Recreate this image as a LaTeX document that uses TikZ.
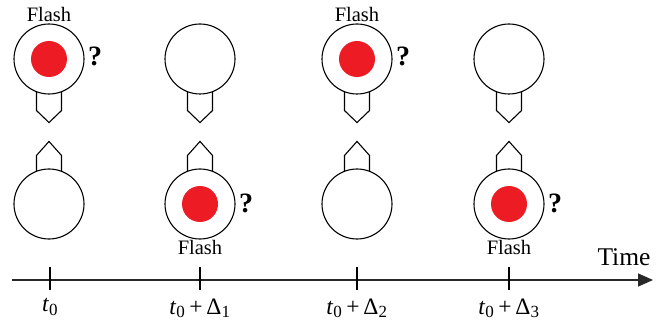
\documentclass[tikz,border=0pt]{standalone}
\usepackage{fontspec}
\setmainfont{Liberation Serif}
\newfontfamily\timesface{Liberation Serif}
\usepackage{tikz}
\usetikzlibrary{arrows.meta, positioning, backgrounds}
\definecolor{flashred}{RGB}{237, 28, 36}
\definecolor{linegray}{RGB}{40, 40, 40}
\tikzset{
  >=Stealth,
  timearrow/.style={-{Triangle[length=15pt, width=13pt]}, line width=1.5pt, linegray}
}
\newcommand{\tstamp}[1]{\textit{t}\textsubscript{\fontsize{17}{18}\selectfont 0}\,+\,Δ\textsubscript{\fontsize{17}{18}\selectfont #1}}

\begin{document}
\begin{tikzpicture}[
    x=1pt, y=1pt,
    lamp/.style={circle, draw=black, fill=white, line width=1.1pt, minimum size=70pt, inner sep=0pt},
    dot/.style={circle, fill=flashred, minimum size=36pt, inner sep=0pt},
    plug/.style={draw=black, line width=1.1pt, fill=white, line join=miter},
    flash/.style={font=\timesface\fontsize{20.5}{22}\selectfont},
    ask/.style={font=\timesface\fontsize{28}{30}\selectfont\bfseries},
    tick/.style={line width=1.2pt, black},
    stamp/.style={font=\timesface\fontsize{23.5}{24}\selectfont}
]
    \useasboundingbox (0,0) rectangle (664,327);

    % Upper row
    \node[lamp] (u1) at (49,268) {};
    \node[lamp] (u2) at (200,268) {};
    \node[lamp] (u3) at (357,268) {};
    \node[lamp] (u4) at (509,268) {};
    \node[dot] (ud1) at (u1) {};
    \node[dot] (ud3) at (u3) {};
    \node[flash, above=-2pt of u1] (uf1) {Flash};
    \node[flash, above=-2pt of u3] (uf3) {Flash};
    \node[ask, right=0pt of u1, yshift=3pt] (uq1) {?};
    \node[ask, right=0pt of u3, yshift=3pt] (uq3) {?};

    % Lower row
    \node[lamp] (d1) at (49,123) {};
    \node[lamp] (d2) at (200,123) {};
    \node[lamp] (d3) at (357,123) {};
    \node[lamp] (d4) at (509,123) {};
    \node[dot] (dd2) at (d2) {};
    \node[dot] (dd4) at (d4) {};
    \node[flash, below=-3pt of d2] (df2) {Flash};
    \node[flash, below=-3pt of d4] (df4) {Flash};
    \node[ask, right=0pt of d2, yshift=1pt] (dq2) {?};
    \node[ask, right=0pt of d4, yshift=1pt] (dq4) {?};

    % Plugs
    \begin{scope}[on background layer]
        \foreach \n in {u1,u2,u3,u4}
            \draw[plug] ([xshift=-12.5pt, yshift=6pt]\n.south) -- ++(0,-22) -- ++(12.5,-12) -- ++(12.5,12) -- ++(0,22) -- cycle;
        \foreach \n in {d1,d2,d3,d4}
            \draw[plug] ([xshift=-12.5pt, yshift=-6pt]\n.north) -- ++(0,19) -- ++(12.5,14) -- ++(12.5,-14) -- ++(0,-19) -- cycle;
    \end{scope}

    % Time axis
    \coordinate (ax0) at (12,47);
    \coordinate (ax1) at (653,47);
    \draw[timearrow] (ax0) -- (ax1);
    \node[font=\timesface\fontsize{25.5}{27}\selectfont] (time) at (624,70) {Time};
    \foreach \x/\nm in {50/k0, 200/k1, 357/k2, 509/k3}
        \draw[tick] (\x,60) -- (\x,37) coordinate (\nm);
    \node[stamp, below=5pt of k0] (s0) {\textit{t}\textsubscript{\fontsize{17}{18}\selectfont 0}};
    \node[stamp, below=5pt of k1] (s1) {\tstamp{1}};
    \node[stamp, below=5pt of k2] (s2) {\tstamp{2}};
    \node[stamp, below=5pt of k3] (s3) {\tstamp{3}};
\end{tikzpicture}
\end{document}
